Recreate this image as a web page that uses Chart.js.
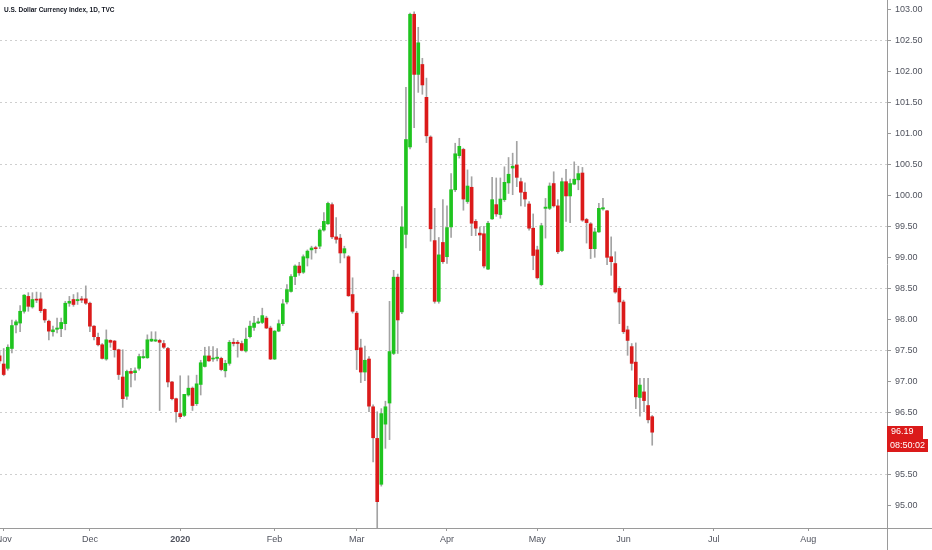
<!DOCTYPE html>
<html>
<head>
<meta charset="utf-8">
<script src="https://cdn.jsdelivr.net/npm/chart.js@4.4.0/dist/chart.umd.min.js"></script>
<style>
  html, body { margin: 0; padding: 0; background: #fff; }
  #wrap { position: relative; width: 932px; height: 550px; }
  #title { position: absolute; left: 4px; top: 6px; font: bold 6.5px "Liberation Sans", Arial, sans-serif; color: #131722; white-space: nowrap; }
</style>
</head>
<body>
<div id="wrap">
  <canvas id="myChart"></canvas>
  <div id="title">U.S. Dollar Currency Index, 1D, TVC</div>
</div>
<script>

// daily bars, first one is Oct 31 2019 (bar -1), Nov 1 2019 is bar 0
var firstBar = -1;

var opens = [97.42,
  97.29, 97.22, 97.54, 97.92, 97.95, 98.14, 98.38, 98.21, 98.33, 98.34, 98.17, 97.98, 97.81, 97.85, 97.86, 97.94, 98.27, 98.33, 98.31, 98.34, 98.34,
  98.27, 97.90, 97.72, 97.60, 97.37, 97.67, 97.66, 97.52, 97.08, 96.77, 97.17, 97.15, 97.22, 97.39, 97.39, 97.66, 97.66, 97.67, 97.62, 97.54, 97.00, 96.73,
  96.49, 96.46, 96.79, 96.90, 96.65, 96.96, 97.25, 97.42, 97.37, 97.38, 97.38, 97.18, 97.30, 97.64, 97.64, 97.62, 97.50, 97.73, 97.88, 97.95, 97.96, 98.03, 97.87,
  97.37, 97.82, 97.94, 98.29, 98.46, 98.70, 98.87, 98.77, 99.00, 99.13, 99.16, 99.19, 99.45, 99.55, 99.86, 99.34, 99.32, 99.08, 99.02, 98.41,
  98.11, 97.55, 97.16, 97.37, 96.60, 96.09, 95.35, 96.32, 96.66, 97.46, 98.69, 98.13, 99.38, 100.79, 102.93, 101.96, 102.12, 101.59, 100.95, 99.28, 98.30, 99.25,
  99.02, 99.50, 100.10, 100.65, 100.75, 99.91, 100.14, 99.59, 99.40, 99.39, 98.82, 99.63, 99.86, 99.70, 99.94, 100.21, 100.45, 100.50, 100.23, 100.06, 99.87, 99.48,
  99.13, 98.57, 99.80, 99.80, 100.20, 99.84, 99.12, 100.23, 100.00, 100.19, 100.26, 100.37, 99.62, 99.55, 99.15, 99.42, 99.79, 99.76, 99.02, 98.91, 98.51,
  98.29, 97.84, 97.57, 97.32, 96.75, 96.84, 96.62, 96.44];

var highs = [97.50,
  97.54, 97.60, 98.00, 98.00, 98.23, 98.41, 98.44, 98.44, 98.45, 98.44, 98.18, 98.00, 97.90, 98.03, 98.03, 98.30, 98.38, 98.41, 98.44, 98.38, 98.55,
  98.29, 97.91, 97.79, 97.62, 97.84, 97.68, 97.67, 97.53, 97.52, 97.19, 97.22, 97.23, 97.45, 97.52, 97.76, 97.81, 97.81, 97.69, 97.67, 97.56, 97.01, 96.74,
  97.10, 96.80, 97.10, 96.92, 97.11, 97.35, 97.56, 97.57, 97.57, 97.54, 97.40, 97.35, 97.67, 97.70, 97.67, 97.66, 97.87, 97.98, 98.06, 98.03, 98.19, 98.06, 97.90,
  97.83, 98.00, 98.33, 98.57, 98.73, 98.89, 98.93, 99.05, 99.13, 99.19, 99.19, 99.47, 99.73, 99.90, 99.89, 99.65, 99.38, 99.19, 99.04, 98.68,
  98.14, 97.69, 97.58, 97.41, 96.63, 96.52, 96.57, 96.69, 98.30, 98.80, 98.74, 99.83, 101.75, 102.95, 102.97, 102.72, 102.22, 101.90, 100.97, 99.80, 99.33, 99.94,
  99.84, 100.36, 100.85, 100.93, 100.77, 100.42, 100.31, 99.62, 99.50, 99.51, 99.59, 100.30, 100.29, 100.29, 100.47, 100.62, 100.69, 100.88, 100.29, 100.21, 99.91, 99.71,
  99.19, 99.56, 99.96, 100.21, 100.39, 99.94, 100.29, 100.43, 100.27, 100.55, 100.48, 100.46, 99.64, 99.57, 99.48, 99.88, 99.96, 99.77, 99.34, 99.10, 98.54,
  98.32, 97.90, 97.62, 97.63, 97.06, 97.06, 97.06, 96.46];

var lows = [97.30,
  97.10, 97.19, 97.47, 97.79, 97.81, 98.11, 98.14, 98.19, 98.28, 98.12, 97.96, 97.68, 97.74, 97.79, 97.73, 97.84, 98.22, 98.22, 98.25, 98.28, 98.25,
  97.81, 97.68, 97.58, 97.37, 97.35, 97.56, 97.40, 97.04, 96.59, 96.72, 96.92, 97.03, 97.19, 97.38, 97.38, 97.65, 97.65, 96.54, 97.54, 96.92, 96.71, 96.35,
  96.41, 96.44, 96.77, 96.54, 96.62, 96.79, 97.24, 97.33, 97.33, 97.34, 97.18, 97.08, 97.27, 97.58, 97.40, 97.50, 97.48, 97.71, 97.83, 97.94, 97.94, 97.86, 97.36,
  97.36, 97.81, 97.91, 98.26, 98.45, 98.57, 98.72, 98.75, 98.87, 98.98, 99.08, 99.15, 99.43, 99.54, 99.31, 99.24, 98.92, 99.00, 98.38, 98.11,
  97.20, 96.99, 97.02, 96.52, 95.71, 94.65, 95.32, 95.93, 96.07, 97.44, 97.46, 98.10, 99.16, 100.76, 101.10, 101.67, 101.64, 100.86, 99.27, 98.27, 98.27, 98.91,
  98.91, 99.33, 100.07, 100.61, 99.77, 99.88, 99.36, 99.36, 99.12, 98.84, 98.81, 99.62, 99.67, 99.64, 99.91, 100.04, 100.02, 100.15, 99.84, 99.83, 99.45, 98.81,
  98.66, 98.55, 99.32, 99.78, 99.82, 99.07, 99.10, 99.59, 99.57, 100.18, 100.10, 99.59, 99.24, 98.99, 99.01, 99.41, 99.77, 98.89, 98.72, 98.43, 97.94,
  97.78, 97.43, 97.19, 96.57, 96.45, 96.52, 96.34, 95.98];

var closes = [97.34,
  97.12, 97.56, 97.91, 97.97, 98.14, 98.40, 98.22, 98.33, 98.32, 98.15, 98.00, 97.82, 97.84, 97.87, 97.96, 98.27, 98.30, 98.25, 98.33, 98.32, 98.27,
  97.90, 97.73, 97.60, 97.38, 97.68, 97.64, 97.52, 97.12, 96.73, 97.17, 97.14, 97.18, 97.41, 97.41, 97.68, 97.69, 97.68, 97.64, 97.56, 97.00, 96.73, 96.52,
  96.44, 96.80, 96.90, 96.62, 96.97, 97.31, 97.42, 97.34, 97.38, 97.40, 97.20, 97.30, 97.64, 97.62, 97.62, 97.51, 97.69, 97.90, 97.95, 97.97, 98.07, 97.87, 97.37,
  97.82, 97.94, 98.26, 98.49, 98.70, 98.87, 98.76, 99.02, 99.11, 99.16, 99.15, 99.45, 99.59, 99.88, 99.34, 99.30, 99.08, 99.15, 98.39, 98.14,
  97.52, 97.16, 97.35, 96.61, 96.10, 95.07, 96.49, 96.60, 97.49, 98.69, 98.00, 99.50, 100.91, 102.93, 101.96, 102.47, 101.79, 100.97, 99.47, 98.30, 99.05, 98.94,
  99.49, 100.10, 100.68, 100.80, 99.95, 100.16, 99.56, 99.48, 99.37, 98.87, 99.56, 99.94, 99.71, 99.95, 100.22, 100.35, 100.48, 100.30, 100.06, 99.95, 99.48, 99.04,
  98.68, 99.52, 99.82, 100.16, 99.84, 99.10, 100.23, 100.00, 100.20, 100.27, 100.36, 99.61, 99.57, 99.15, 99.42, 99.80, 99.81, 99.01, 98.94, 98.45, 98.29,
  97.81, 97.67, 97.30, 96.76, 96.95, 96.70, 96.39, 96.19];

// month ticks on the time axis (bar numbers of the first trading day)
var monthLabels = ['Nov', 'Dec', '2020', 'Feb', 'Mar', 'Apr', 'May', 'Jun', 'Jul', 'Aug'];
var monthStarts = [0, 21, 43, 66, 86, 108, 130, 151, 173, 196];

var priceTicks = [95, 95.5, 96, 96.5, 97, 97.5, 98, 98.5, 99, 99.5, 100, 100.5, 101, 101.5, 102, 102.5, 103];
var countdown = '08:50:02';

var upColor = '#1fc41f';
var downColor = '#db1a1a';
var wickColor = '#a3a3a3';
var axisColor = '#9a9a9a';
var textColor = '#50535e';
var fontFamily = '"Liberation Sans", Arial, sans-serif';

function getBodies() {
  return opens.map(function (open, i) {
    return { x: i + firstBar, y: [open, closes[i]] };
  });
}

function getWicks() {
  return lows.map(function (low, i) {
    return { x: i + firstBar, y: [low, highs[i]] };
  });
}

function getColors() {
  return opens.map(function (open, i) {
    return closes[i] >= open ? upColor : downColor;
  });
}

// red price + countdown tags on the price axis, and the axis lines running to the edge
var tagsPlugin = {
  id: 'tags',
  afterDraw: function (chart) {
    var c = chart.ctx;
    var area = chart.chartArea;
    var last = closes[closes.length - 1];
    var y = chart.scales.y.getPixelForValue(last);

    c.save();
    c.strokeStyle = axisColor;
    c.lineWidth = 1;
    c.beginPath();
    c.moveTo(area.right + 0.5, area.bottom);
    c.lineTo(area.right + 0.5, chart.height);
    c.moveTo(area.right, area.bottom + 0.5);
    c.lineTo(chart.width, area.bottom + 0.5);
    c.stroke();

    c.fillStyle = downColor;
    c.fillRect(area.right, Math.round(y - 6.5), 36, 13);
    c.fillRect(area.right, Math.round(y + 7), 41, 13);
    c.fillStyle = '#ffffff';
    c.font = '9px ' + fontFamily;
    c.textBaseline = 'middle';
    c.textAlign = 'left';
    c.fillText(last.toFixed(2), area.right + 4, Math.round(y));
    c.fillText(countdown, area.right + 3, Math.round(y + 13.5));
    c.restore();
  }
};

var ctx = document.getElementById('myChart');
var myChart = new Chart(ctx, {
  type: 'bar',
  data: {
    datasets: [{
      label: 'Body',
      data: getBodies(),
      backgroundColor: getColors(),
      barThickness: 3,
      minBarLength: 1,
      grouped: false,
      order: 0
    }, {
      label: 'Wick',
      data: getWicks(),
      backgroundColor: wickColor,
      barThickness: 1,
      grouped: false,
      order: 1
    }]
  },
  options: {
    responsive: true,
    maintainAspectRatio: false,
    animation: false,
    layout: { padding: 0 },
    plugins: {
      legend: { display: false },
      tooltip: { enabled: false },
      title: { display: false }
    },
    scales: {
      x: {
        type: 'linear',
        offset: false,
        min: -0.9,
        max: 215.2,
        afterBuildTicks: function (scale) {
          scale.ticks = monthStarts.map(function (v) { return { value: v }; });
        },
        afterFit: function (scale) {
          scale.height = 22;
          scale.paddingLeft = 0;
          scale.paddingRight = 0;
        },
        grid: { offset: false, drawOnChartArea: false, drawTicks: true, tickLength: 3, color: axisColor },
        border: { color: axisColor },
        ticks: {
          autoSkip: false,
          maxRotation: 0,
          padding: 3,
          color: textColor,
          font: function (c) {
            var bold = c.tick && c.tick.value === 43;
            return { family: fontFamily, size: 9, weight: bold ? 'bold' : 'normal' };
          },
          callback: function (value) {
            return monthLabels[monthStarts.indexOf(value)];
          }
        }
      },
      y: {
        position: 'right',
        min: 94.645,
        max: 103.16,
        afterBuildTicks: function (scale) {
          scale.ticks = priceTicks.map(function (v) { return { value: v }; });
        },
        afterFit: function (scale) {
          scale.width = 45;
          scale.paddingTop = 0;
          scale.paddingBottom = 0;
        },
        grid: {
          color: function (c) {
            var v = c.tick ? c.tick.value : 0;
            return Math.round(v * 2) % 2 === 1 ? '#cfcfcf' : 'rgba(0,0,0,0)';
          },
          tickColor: axisColor,
          tickLength: 4,
          tickBorderDash: []
        },
        border: { color: axisColor, dash: [2, 3] },
        ticks: {
          padding: 4,
          color: textColor,
          font: { family: fontFamily, size: 9 },
          callback: function (value) {
            return Number(value).toFixed(2);
          }
        }
      }
    }
  },
  plugins: [tagsPlugin]
});
console.log(myChart.chartArea);
</script>
</body>
</html>
